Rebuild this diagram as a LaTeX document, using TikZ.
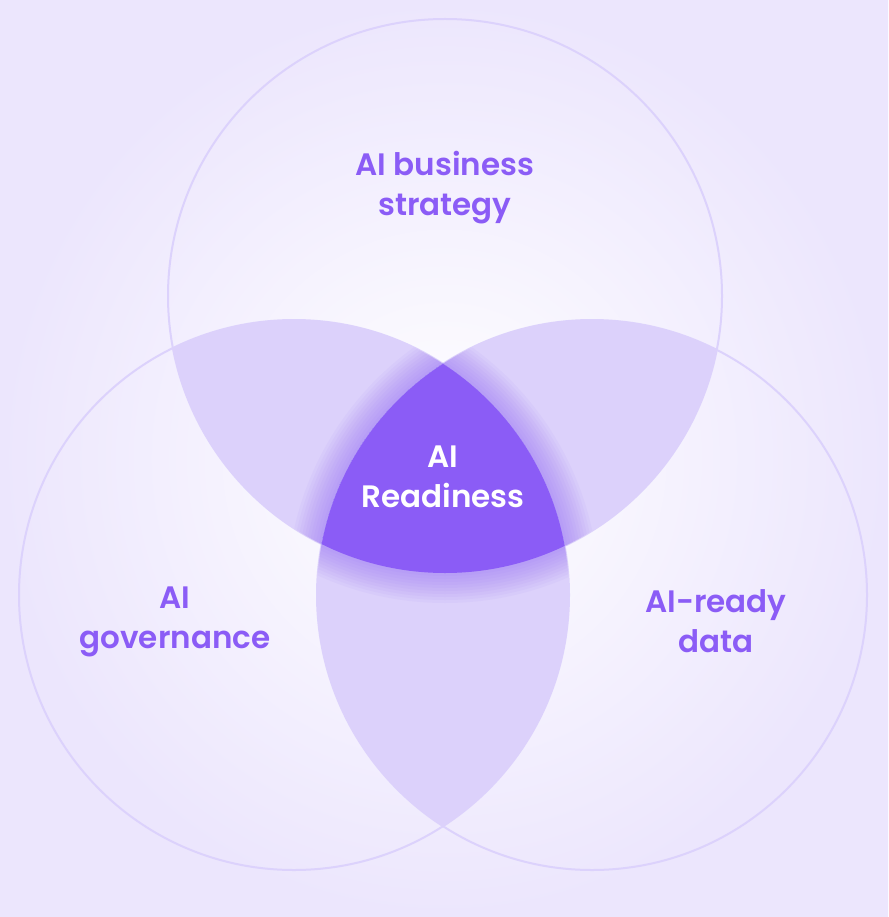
\documentclass[tikz,border=0pt]{standalone}
\usepackage{fontspec}
\setmainfont{Poppins}
\newfontfamily\lblfont{Poppins}[UprightFont={* SemiBold}]
\definecolor{bgedge}{HTML}{ECE6FD}
\definecolor{ring}{HTML}{DCD2FC}
\definecolor{pair}{HTML}{DCD1FB}
\definecolor{core}{HTML}{8B5CF6}
\tikzset{
  ring/.style={draw=ring, line width=2pt},
  lbl/.style={align=center, text=core, font=\lblfont\fontsize{31}{40}\selectfont},
  corelbl/.style={lbl, text=white}
}

\begin{document}
\begin{tikzpicture}[x=1pt, y=-1pt]
  \useasboundingbox (0,0) rectangle (888,917);
  \shade[inner color=white, outer color=bgedge] (0,0) rectangle (888,917);
  \coordinate (top) at (445,296);
  \coordinate (lft) at (294,595);
  \coordinate (rgt) at (592,595);
  % outlines
  \draw[ring] (top) circle[radius=277pt];
  \draw[ring] (lft) circle[radius=275pt];
  \draw[ring] (rgt) circle[radius=275pt];
  % pairwise overlaps, each with the glow of the core inside it
  \foreach \a/\ra/\b/\rb in {top/277/lft/275, top/277/rgt/275, lft/275/rgt/275} {
    \begin{scope}
      \clip (\a) circle[radius=\ra pt];
      \clip (\b) circle[radius=\rb pt];
      \fill[pair] (\b) circle[radius=\rb pt];
      \foreach \d in {30,27,...,3} {
        \begin{scope}
          \clip (top) circle[radius=277pt+\d pt];
          \clip (lft) circle[radius=275pt+\d pt];
          \fill[core, opacity=0.05] (rgt) circle[radius=275pt+\d pt];
        \end{scope}
      }
    \end{scope}
  }
  % core
  \begin{scope}
    \clip (top) circle[radius=277pt];
    \clip (lft) circle[radius=275pt];
    \fill[core] (rgt) circle[radius=275pt];
  \end{scope}
  % labels
  \node[lbl] (strategy) at (445,188) {AI business\\strategy};
  \node[lbl] (governance) at (175,622) {AI\\governance};
  \node[lbl] (data) at (716,621) {AI-ready\\data};
  \node[corelbl] (readiness) at (443,477) {AI\\Readiness};
\end{tikzpicture}
\end{document}
